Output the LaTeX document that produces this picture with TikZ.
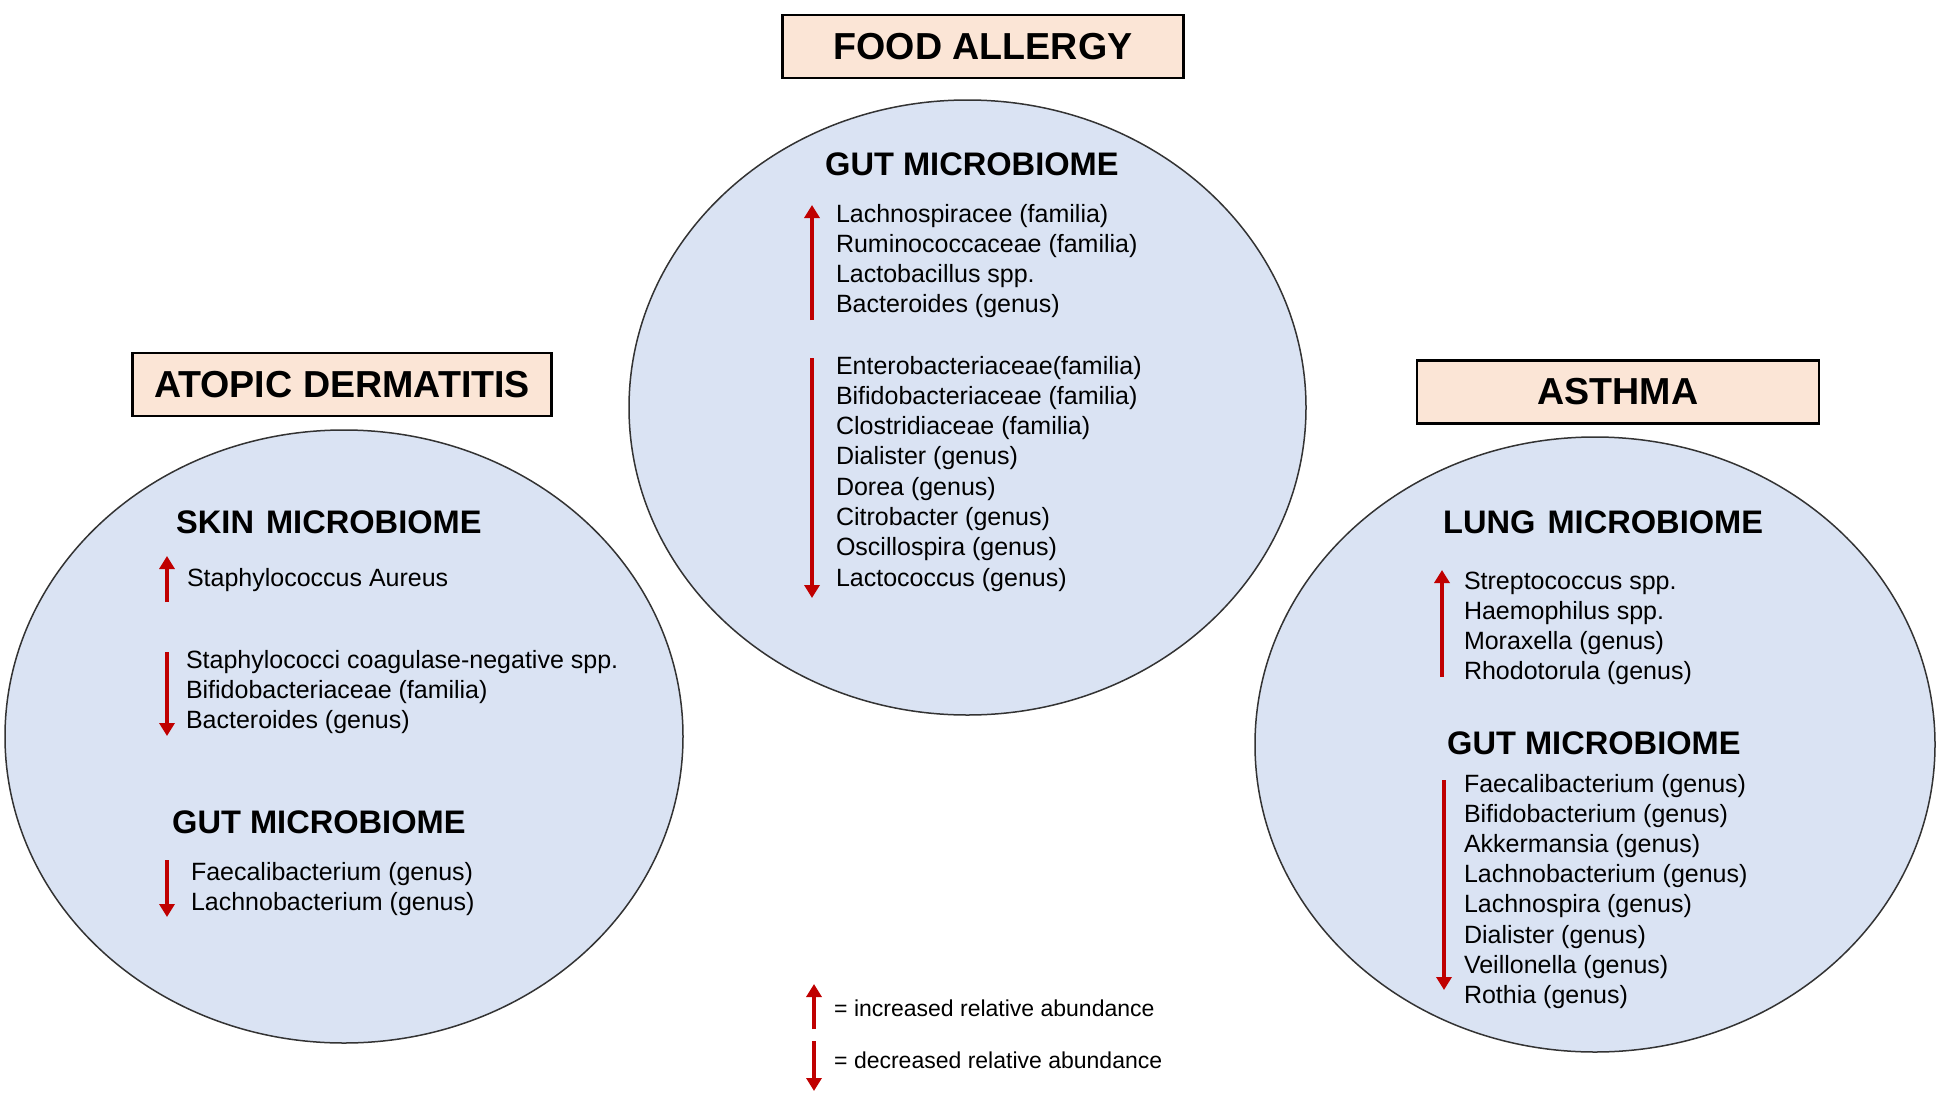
\documentclass[tikz,border=0pt]{standalone}
\usepackage{fontspec}
\setmainfont{Liberation Sans}
\usetikzlibrary{positioning, arrows.meta, shapes.geometric}
\definecolor{bubblefill}{HTML}{DAE3F3}
\definecolor{titlefill}{HTML}{FBE5D6}
\definecolor{arrowred}{HTML}{C00000}
\tikzset{
    titlebox/.style={
        rectangle,
        draw=black, % 边框颜色为黑色
        fill=titlefill,
        line width=2.5pt,
        minimum width=401pt,
        minimum height=63pt,
        inner sep=0,
        font=\fontsize{37.6}{40}\selectfont\bfseries
    },
    bubble/.style={
        ellipse,
        draw=black!80,
        fill=bubblefill, % 浅蓝色填充
        line width=1.5pt,
        inner sep=0
    },
    header/.style={
        anchor=base west,
        inner sep=0,
        font=\fontsize{32.6}{36}\selectfont\bfseries
    },
    itemtext/.style={
        anchor=base west,
        inner sep=0,
        outer sep=0,
        text height=18pt,
        text depth=6pt,
        font=\fontsize{25}{30}\selectfont
    },
    legendtext/.style={
        anchor=base west,
        inner sep=0,
        font=\fontsize{23}{28}\selectfont
    },
    trend/.style={
        draw=arrowred,
        line width=4.5pt,
        -{Triangle[width=15pt,length=13pt]}
    }
}

\begin{document}
\begin{tikzpicture}[x=1pt, y=-1pt]
    \useasboundingbox[fill=white] (0,0) rectangle (1952,1106);

    % 食物过敏
    \node[bubble, minimum width=677pt, minimum height=615pt] (fa-bubble) at (967.5,407.5) {};
    \node[titlebox] (fa-title) at (983,46.5) {FOOD ALLERGY};
    \node[header] (fa-gut) at (825,175) {GUT MICROBIOME};
    \node[itemtext] (fa1) at (836,222) {Lachnospiracee (familia)};
    \node[itemtext, below right=6pt and 0pt of fa1.south west] (fa2) {Ruminococcaceae (familia)};
    \node[itemtext, below right=6pt and 0pt of fa2.south west] (fa3) {Lactobacillus spp.};
    \node[itemtext, below right=6pt and 0pt of fa3.south west] (fa4) {Bacteroides (genus)};
    \node[itemtext] (fb1) at (836,374) {Enterobacteriaceae(familia)};
    \node[itemtext, below right=6.3pt and 0pt of fb1.south west] (fb2) {Bifidobacteriaceae (familia)};
    \node[itemtext, below right=6.3pt and 0pt of fb2.south west] (fb3) {Clostridiaceae (familia)};
    \node[itemtext, below right=6.3pt and 0pt of fb3.south west] (fb4) {Dialister (genus)};
    \node[itemtext, below right=6.3pt and 0pt of fb4.south west] (fb5) {Dorea (genus)};
    \node[itemtext, below right=6.3pt and 0pt of fb5.south west] (fb6) {Citrobacter (genus)};
    \node[itemtext, below right=6.3pt and 0pt of fb6.south west] (fb7) {Oscillospira (genus)};
    \node[itemtext, below right=6.3pt and 0pt of fb7.south west] (fb8) {Lactococcus (genus)};
    \coordinate (fa-up-s) at (812,320);
    \coordinate (fa-up-e) at (812,205);
    \coordinate (fa-dn-s) at (812,358);
    \coordinate (fa-dn-e) at (812,598);
    \draw[trend] (fa-up-s) -- (fa-up-e);
    \draw[trend] (fa-dn-s) -- (fa-dn-e);

    % 特应性皮炎
    \node[bubble, minimum width=678pt, minimum height=613pt] (ad-bubble) at (344,736.5) {};
    \node[titlebox, minimum width=419pt] (ad-title) at (342,384.5) {ATOPIC DERMATITIS};
    \node[header] (ad-skin) at (176,533) {SKIN\hspace{12pt}MICROBIOME};
    \node[itemtext] (ads1) at (187,586) {Staphylococcus Aureus};
    \node[itemtext] (ads2) at (186,668) {Staphylococci coagulase-negative spp.};
    \node[itemtext, below right=6pt and 0pt of ads2.south west] (ads3) {Bifidobacteriaceae (familia)};
    \node[itemtext, below right=6pt and 0pt of ads3.south west] (ads4) {Bacteroides (genus)};
    \node[header] (ad-gut) at (172,833) {GUT MICROBIOME};
    \node[itemtext] (adg1) at (191,880) {Faecalibacterium (genus)};
    \node[itemtext, below right=6pt and 0pt of adg1.south west] (adg2) {Lachnobacterium (genus)};
    \coordinate (ad-up-s) at (167,602);
    \coordinate (ad-up-e) at (167,556);
    \coordinate (ad-dn-s) at (167,652);
    \coordinate (ad-dn-e) at (167,736);
    \coordinate (ad-gdn-s) at (167,860);
    \coordinate (ad-gdn-e) at (167,917);
    \draw[trend] (ad-up-s) -- (ad-up-e);
    \draw[trend] (ad-dn-s) -- (ad-dn-e);
    \draw[trend] (ad-gdn-s) -- (ad-gdn-e);

    % 哮喘
    \node[bubble, minimum width=680pt, minimum height=615pt] (as-bubble) at (1595,744.5) {};
    \node[titlebox, minimum width=402pt] (as-title) at (1618,392) {ASTHMA};
    \node[header] (as-lung) at (1443,533) {LUNG\hspace{12pt}MICROBIOME};
    \node[itemtext] (asl1) at (1464,589) {Streptococcus spp.};
    \node[itemtext, below right=6pt and 0pt of asl1.south west] (asl2) {Haemophilus spp.};
    \node[itemtext, below right=6pt and 0pt of asl2.south west] (asl3) {Moraxella (genus)};
    \node[itemtext, below right=6pt and 0pt of asl3.south west] (asl4) {Rhodotorula (genus)};
    \node[header] (as-gut) at (1447,754) {GUT MICROBIOME};
    \node[itemtext] (asg1) at (1464,792) {Faecalibacterium (genus)};
    \node[itemtext, below right=6.2pt and 0pt of asg1.south west] (asg2) {Bifidobacterium (genus)};
    \node[itemtext, below right=6.2pt and 0pt of asg2.south west] (asg3) {Akkermansia (genus)};
    \node[itemtext, below right=6.2pt and 0pt of asg3.south west] (asg4) {Lachnobacterium (genus)};
    \node[itemtext, below right=6.2pt and 0pt of asg4.south west] (asg5) {Lachnospira (genus)};
    \node[itemtext, below right=6.2pt and 0pt of asg5.south west] (asg6) {Dialister (genus)};
    \node[itemtext, below right=6.2pt and 0pt of asg6.south west] (asg7) {Veillonella (genus)};
    \node[itemtext, below right=6.2pt and 0pt of asg7.south west] (asg8) {Rothia (genus)};
    \coordinate (as-up-s) at (1442,677);
    \coordinate (as-up-e) at (1442,570);
    \coordinate (as-dn-s) at (1444,780);
    \coordinate (as-dn-e) at (1444,990);
    \draw[trend] (as-up-s) -- (as-up-e);
    \draw[trend] (as-dn-s) -- (as-dn-e);

    % 图例
    \node[legendtext] (leg-up) at (834,1016) {= increased relative abundance};
    \node[legendtext] (leg-dn) at (834,1068) {= decreased relative abundance};
    \coordinate (leg-up-s) at (814,1029);
    \coordinate (leg-up-e) at (814,984);
    \coordinate (leg-dn-s) at (814,1041);
    \coordinate (leg-dn-e) at (814,1091);
    \draw[trend] (leg-up-s) -- (leg-up-e);
    \draw[trend] (leg-dn-s) -- (leg-dn-e);
\end{tikzpicture}
\end{document}
